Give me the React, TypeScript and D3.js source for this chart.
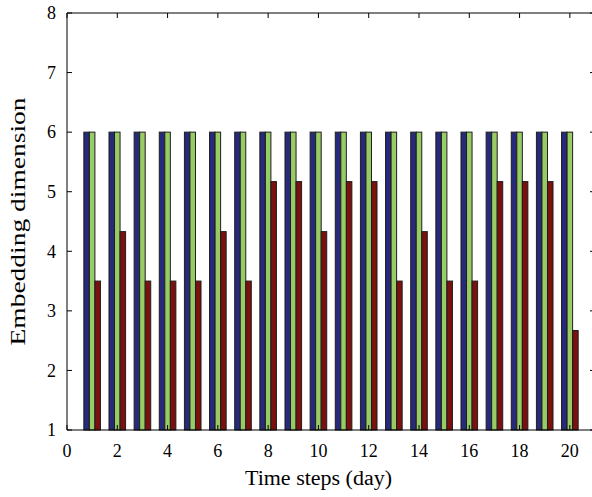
import React from "react";
import * as d3 from "d3";

const days = d3.range(1, 21);
const seriesA = [6, 6, 6, 6, 6, 6, 6, 6, 6, 6, 6, 6, 6, 6, 6, 6, 6, 6, 6, 6];
const seriesB = [6, 6, 6, 6, 6, 6, 6, 6, 6, 6, 6, 6, 6, 6, 6, 6, 6, 6, 6, 6];
const seriesC = [3.5, 4.33, 3.5, 3.5, 3.5, 4.33, 3.5, 5.17, 5.17, 4.33, 5.17, 5.17, 3.5, 4.33, 3.5, 3.5, 5.17, 5.17, 5.17, 2.67];
const xTicks = [0, 2, 4, 6, 8, 10, 12, 14, 16, 18, 20];
const yTicks = [1, 2, 3, 4, 5, 6, 7, 8];
const seriesColors = ["#272a78", "#97cc64", "#7a1010"];

const W = 592;
const H = 497;
const left = 67;
const right = 595;
const top = 13;
const bottom = 430;

export default function App() {
  const x = d3.scaleLinear().domain([0, 21]).range([left, right]);
  const y = d3.scaleLinear().domain([1, 8]).range([bottom, top]);
  const bw = 0.22;
  const series = [seriesA, seriesB, seriesC];
  const offsets = [-bw, 0, bw];
  const font = "'Liberation Serif', 'DejaVu Serif', serif";
  const tickLen = 5;
  return (
    <svg width={W} height={H} style={{ position: "absolute", left: 0, top: 0, background: "#fff" }}>
      <g>
        {series.map((vals, si) =>
          vals.map((v, i) => {
            const cx = x(days[i] + offsets[si]);
            const wpx = x(bw) - x(0);
            const x0 = cx - wpx / 2;
            return (
              <rect
                key={`${si}-${i}`}
                x={x0}
                y={y(v)}
                width={wpx}
                height={y(1) - y(v)}
                fill={seriesColors[si]}
                stroke="#1e1e1e"
                strokeWidth={1}
              />
            );
          })
        )}
      </g>
      <g stroke="#000" strokeWidth={1} fill="none">
        <line x1={left} x2={right} y1={bottom} y2={bottom} />
        <line x1={left} x2={right} y1={top} y2={top} />
        <line x1={left} x2={left} y1={top} y2={bottom} />
        <line x1={right} x2={right} y1={top} y2={bottom} />
        {yTicks.map((t) => (
          <g key={`yt${t}`}>
            <line x1={left} x2={left + tickLen} y1={y(t)} y2={y(t)} />
            <line x1={right} x2={right - tickLen} y1={y(t)} y2={y(t)} />
          </g>
        ))}
        {xTicks.map((t) => (
          <g key={`xt${t}`}>
            <line x1={x(t)} x2={x(t)} y1={bottom} y2={bottom - tickLen} />
            <line x1={x(t)} x2={x(t)} y1={top} y2={top + tickLen} />
          </g>
        ))}
      </g>
      <g fontFamily={font} fontSize={18} fill="#000">
        {yTicks.map((t) => (
          <text key={`yl${t}`} x={left - 11} y={y(t)} dy="0.35em" textAnchor="end">
            {t}
          </text>
        ))}
        {xTicks.map((t) => (
          <text key={`xl${t}`} x={x(t)} y={bottom + 27} textAnchor="middle">
            {t}
          </text>
        ))}
        <text
          x={318.5}
          y={485}
          textAnchor="middle"
          fontSize={20}
          textLength={147}
          lengthAdjust="spacingAndGlyphs"
        >
          Time steps (day)
        </text>
        <text
          transform={`translate(25, ${(top + bottom) / 2}) rotate(-90)`}
          textAnchor="middle"
          fontSize={20}
          textLength={248}
          lengthAdjust="spacingAndGlyphs"
        >
          Embedding dimension
        </text>
      </g>
    </svg>
  );
}
